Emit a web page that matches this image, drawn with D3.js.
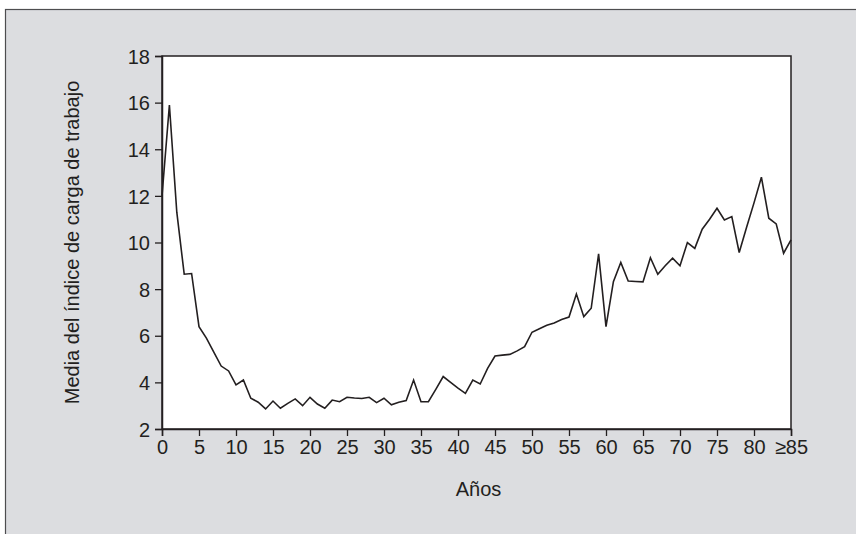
<!DOCTYPE html>
<html>
<head>
<meta charset="utf-8">
<script src="https://cdn.jsdelivr.net/npm/d3@7"></script>
<style>
  html, body { margin: 0; padding: 0; background: #ffffff; }
  svg { display: block; }
  text { font-family: "Liberation Sans", Arial, Helvetica, sans-serif; fill: #231f20; }
</style>
</head>
<body>
<svg id="chart" width="856" height="534"></svg>
<script>
// Data
const ages = d3.range(0, 86);
const values = [
  12.0, 15.9, 11.3, 8.64, 8.67, 6.39, 5.9, 5.3, 4.7, 4.49,
  3.89, 4.10, 3.32, 3.15, 2.86, 3.20, 2.89, 3.10, 3.29, 3.00,
  3.36, 3.07, 2.89, 3.24, 3.17, 3.36, 3.33, 3.31, 3.36, 3.13,
  3.32, 3.04, 3.15, 3.22, 4.10, 3.17, 3.17, 3.70, 4.25, 4.00,
  3.75, 3.53, 4.10, 3.93, 4.60, 5.13, 5.17, 5.20, 5.35, 5.53,
  6.15, 6.30, 6.45, 6.55, 6.70, 6.80, 7.79, 6.82, 7.18, 9.51,
  6.39, 8.32, 9.14, 8.35, 8.33, 8.31, 9.35, 8.64, 9.00, 9.33,
  9.00, 10.00, 9.75, 10.57, 11.00, 11.47, 10.97, 11.11, 9.57, 10.65,
  11.70, 12.80, 11.04, 10.80, 9.54, 10.11
];
const xTicks = [0, 5, 10, 15, 20, 25, 30, 35, 40, 45, 50, 55, 60, 65, 70, 75, 80, 85];
const xTickLabels = ["0", "5", "10", "15", "20", "25", "30", "35", "40", "45", "50", "55", "60", "65", "70", "75", "80", "≥85"];
const yTicks = [2, 4, 6, 8, 10, 12, 14, 16, 18];
const xTitle = "Años";
const yTitle = "Media del índice de carga de trabajo";

(function () {
const svg = d3.select("#chart");
const W = 856, H = 534;
const pL = 162, pR = 791, pT = 56, pB = 429;

// outer panel
svg.append("rect")
  .attr("x", 5.5).attr("y", 9.5)
  .attr("width", W + 10).attr("height", H + 10)
  .attr("fill", "#dcdde0")
  .attr("stroke", "#4d4d4f").attr("stroke-width", 1.2);

const x = d3.scaleLinear().domain([0, 85]).range([pL, pR]);
const y = d3.scaleLinear().domain([2, 18]).range([pB, pT]);

// plot area
svg.append("rect")
  .attr("x", pL).attr("y", pT)
  .attr("width", pR - pL).attr("height", pB - pT)
  .attr("fill", "#ffffff")
  .attr("stroke", "#231f20").attr("stroke-width", 1.5);

const fontSize = 20;

const xAxis = svg.append("g")
  .attr("transform", `translate(0,${pB})`)
  .call(d3.axisBottom(x).tickValues(xTicks)
    .tickFormat((d, i) => xTickLabels[i]).tickSize(7).tickPadding(4));
const yAxis = svg.append("g")
  .attr("transform", `translate(${pL},0)`)
  .call(d3.axisLeft(y).tickValues(yTicks).tickSize(7).tickPadding(5));

[xAxis, yAxis].forEach(g => {
  g.select(".domain").attr("stroke", "#231f20").attr("stroke-width", 1.5);
  g.selectAll(".tick line").attr("stroke", "#231f20").attr("stroke-width", 1.3);
  g.selectAll(".tick text")
    .attr("fill", "#231f20")
    .style("font-family", '"Liberation Sans", Arial, sans-serif')
    .style("font-size", fontSize + "px");
});
yAxis.selectAll(".tick text").attr("dy", "0.36em");

// line
const line = d3.line().x((d, i) => x(ages[i])).y(d => y(d));
svg.append("path")
  .datum(values)
  .attr("d", line)
  .attr("fill", "none")
  .attr("stroke", "#231f20")
  .attr("stroke-width", 1.6)
  .attr("stroke-linejoin", "miter");

// titles
svg.append("text")
  .attr("x", (pL + pR) / 2 + 2)
  .attr("y", 496)
  .attr("text-anchor", "middle")
  .style("font-size", fontSize + "px")
  .text(xTitle);

svg.append("text")
  .attr("transform", `translate(79,${(pT + pB) / 2}) rotate(-90)`)
  .attr("text-anchor", "middle")
  .style("font-size", fontSize + "px")
  .text(yTitle);
})();
</script>
</body>
</html>
